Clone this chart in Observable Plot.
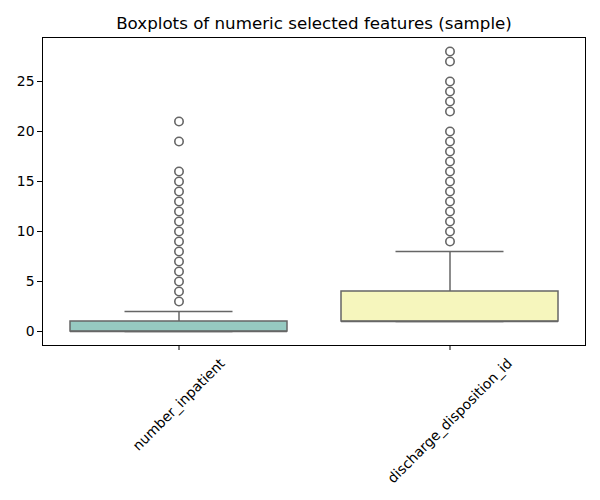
<!DOCTYPE html>
<html>
<head>
<meta charset="utf-8">
<script src="https://cdn.jsdelivr.net/npm/d3@7"></script>
<script src="https://cdn.jsdelivr.net/npm/@observablehq/plot@0.6"></script>
<style>
  body { margin: 0; background: white; }
</style>
</head>
<body>
<div id="chart"></div>
<script>
const title = "Boxplots of numeric selected features (sample)";
const categories = ["number_inpatient", "discharge_disposition_id"];
const colors = ["#96cac1", "#f6f6bd"];
const q1 = [0, 1];
const median = [0, 1];
const q3 = [1, 4];
const whiskerLow = [0, 1];
const whiskerHigh = [2, 8];
const outliersInpatient = [3, 4, 5, 6, 7, 8, 9, 10, 11, 12, 13, 14, 15, 16, 19, 21];
const outliersDischarge = [9, 10, 11, 12, 13, 14, 15, 16, 17, 18, 19, 20, 22, 23, 24, 25, 27, 28];
const yTicks = [0, 5, 10, 15, 20, 25];

const boxes = categories.map((c, i) => ({
  cat: c, q1: q1[i], median: median[i], q3: q3[i], lo: whiskerLow[i], hi: whiskerHigh[i]
}));
const outliers = [
  ...outliersInpatient.map(v => ({cat: categories[0], v})),
  ...outliersDischarge.map(v => ({cat: categories[1], v}))
];

const fontPx = 13.9;
const ctx = document.createElement("canvas").getContext("2d");
ctx.font = `${fontPx}px "DejaVu Sans"`;
const lineH = fontPx * 1.16;

const labelMarks = categories.map(c => {
  const w = ctx.measureText(c).width;
  const dy = 10 + (w + lineH) * Math.SQRT1_2 / 2;
  return Plot.text([c], {
    x: d => d, frameAnchor: "bottom", dy, rotate: -45,
    textAnchor: "middle", lineAnchor: "middle", fontSize: fontPx, fill: "black"
  });
});

const lc = "#666666";
const sw = 1.5;

const chart = Plot.plot({
  width: 600,
  height: 500,
  marginLeft: 42,
  marginRight: 15,
  marginTop: 37,
  marginBottom: 155,
  style: {fontFamily: "DejaVu Sans", fontSize: fontPx + "px", color: "black", background: "white"},
  x: {domain: categories, padding: 0, label: null, axis: null},
  y: {domain: [-1.4, 29.4], label: null, axis: null},
  color: {domain: categories, range: colors},
  marks: [
    Plot.ruleX(boxes, {x: "cat", y1: "q3", y2: "hi", stroke: lc, strokeWidth: sw}),
    Plot.ruleX(boxes, {x: "cat", y1: "q1", y2: "lo", stroke: lc, strokeWidth: sw}),
    Plot.tickY(boxes, {x: "cat", y: "hi", stroke: lc, strokeWidth: sw, insetLeft: 81.5, insetRight: 81.5}),
    Plot.tickY(boxes, {x: "cat", y: "lo", stroke: lc, strokeWidth: sw, insetLeft: 81.5, insetRight: 81.5}),
    Plot.barY(boxes, {x: "cat", y1: "q1", y2: "q3", fill: "cat", stroke: lc, strokeWidth: sw, insetLeft: 27, insetRight: 27}),
    Plot.tickY(boxes, {x: "cat", y: "median", stroke: lc, strokeWidth: sw, insetLeft: 27, insetRight: 27}),
    Plot.dot(outliers, {x: "cat", y: "v", r: 4.2, stroke: lc, strokeWidth: 1.6, fill: "none"}),
    Plot.axisY({ticks: yTicks, tickSize: 5, tickPadding: 3, label: null, fontSize: fontPx, stroke: "black"}),
    Plot.axisX({tickSize: 5, tickFormat: () => "", label: null, stroke: "black"}),
    ...labelMarks,
    Plot.frame({stroke: "black", strokeWidth: 1}),
    Plot.text([title], {frameAnchor: "top", dy: -14, lineAnchor: "middle", fontSize: 16.7, fill: "black"})
  ]
});
document.getElementById("chart").appendChild(chart);
</script>
</body>
</html>
